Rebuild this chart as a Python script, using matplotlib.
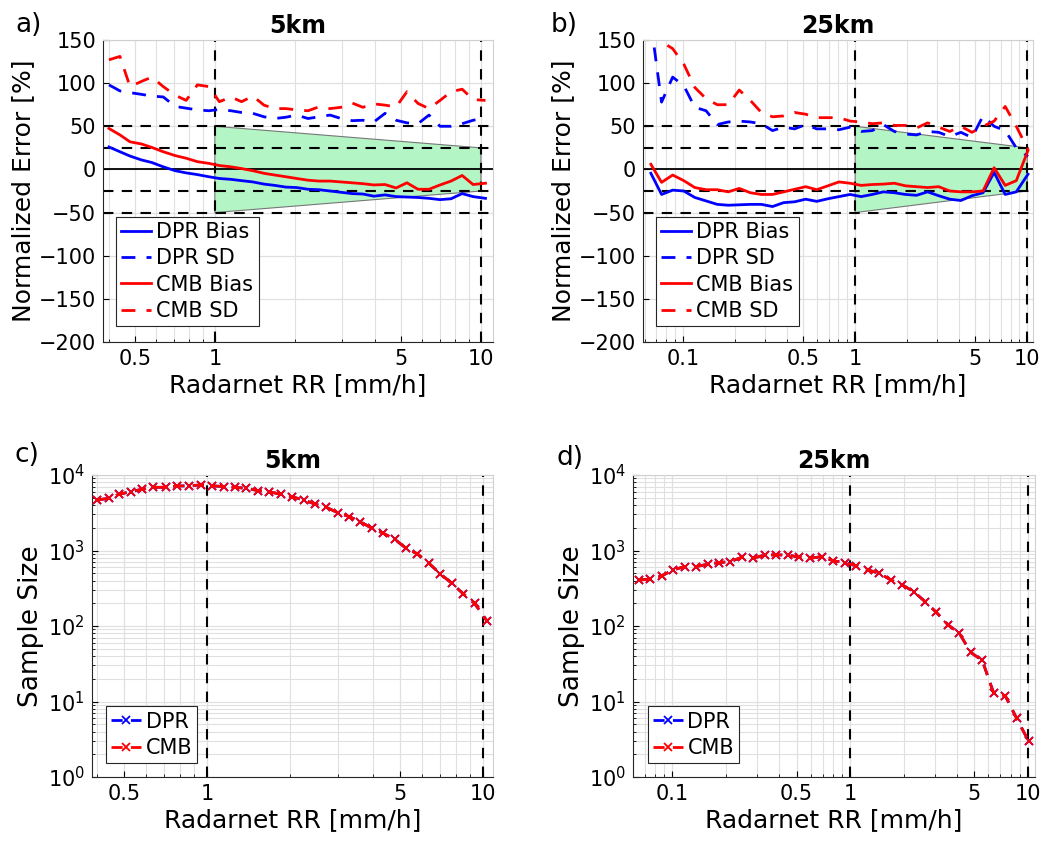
import numpy as np
import matplotlib
matplotlib.use("Agg")
import matplotlib.pyplot as plt
from matplotlib.ticker import LogLocator, NullFormatter

plt.rcParams['font.family'] = ['DejaVu Sans']
plt.rcParams['xtick.direction'] = 'in'
plt.rcParams['ytick.direction'] = 'in'

# --- data ---
# 5 km bins (panels a, c)
rr_5 = [0.40, 0.44, 0.48, 0.53, 0.58, 0.64, 0.71, 0.78, 0.86, 0.95,
        1.04, 1.15, 1.26, 1.39, 1.53, 1.68, 1.85, 2.03, 2.24, 2.46,
        2.71, 2.98, 3.28, 3.60, 3.96, 4.36, 4.80, 5.27, 5.80, 6.38,
        7.02, 7.72, 8.50, 9.34, 10.4]
dpr_bias_5 = [26, 20.5, 15.5, 11, 8, 3, -1.5, -4, -6, -8.5,
              -10.5, -11.5, -13, -14.5, -17, -18.5, -20.5, -21, -23, -23.5,
              -25, -26.5, -28, -28.5, -31, -29.5, -31.5, -32, -32.5, -33.5,
              -35, -34, -28, -31.5, -33.5]
dpr_sd_5 = [98, 91, 89, 87, 85, 84, 73, 71, 69, 68,
            69.5, 68, 66, 65, 61, 59, 60.5, 63, 59, 61,
            63, 59, 56.5, 57, 55, 65, 57, 54, 53, 63,
            50, 50, 53, 57, 59]
cmb_bias_5 = [47.5, 40, 32, 29.5, 25.5, 20.5, 16, 13, 9, 7,
              4.5, 3, 1, -1.5, -4.5, -6.5, -8.5, -10.5, -12.5, -13.5,
              -13.5, -14.5, -15.5, -16.5, -18, -17.5, -21.5, -15.5, -23, -23,
              -18, -13.5, -7, -17.5, -16]
cmb_sd_5 = [127, 131, 96, 102, 107, 96, 86, 80, 98, 96,
            78.5, 84, 78.5, 85, 74.5, 70.5, 70.5, 69, 68, 72.5,
            70.5, 72, 77, 72, 76, 74.5, 72.5, 90, 76.5, 70.5,
            80, 90, 93, 81, 80]
n_dpr_5 = [4670, 4910, 5550, 6020, 6460, 6870, 6870, 7140, 7200, 7380,
           7200, 7020, 6870, 6670, 6210, 6020, 5550, 5160, 4670, 4130,
           3730, 3170, 2810, 2410, 1970, 1690, 1410, 1070, 902, 678,
           490, 369, 267, 200, 115]
n_cmb_5 = [4670, 4910, 5550, 6020, 6460, 6870, 6870, 7140, 7200, 7380,
           7200, 7020, 6870, 6670, 6210, 6020, 5550, 5160, 4670, 4130,
           3730, 3170, 2810, 2410, 1970, 1690, 1410, 1070, 902, 678,
           490, 369, 267, 200, 115]

# 25 km bins (panels b, d)
rr_25 = [0.065, 0.075, 0.087, 0.101, 0.117, 0.136, 0.158, 0.183, 0.212, 0.246,
         0.285, 0.331, 0.384, 0.445, 0.516, 0.598, 0.694, 0.805, 0.934, 1.083,
         1.256, 1.457, 1.690, 1.960, 2.273, 2.636, 3.058, 3.546, 4.114, 4.771,
         5.534, 6.419, 7.444, 8.637, 10.1]
dpr_bias_25 = [-4.5, -29, -24, -25, -32.5, -36.5, -40.5, -41.5, -41, -40.5,
               -40.5, -43, -38.5, -37.5, -34.5, -37, -34, -31.5, -29, -31.5,
               -29, -26, -27, -29, -30, -26, -30.5, -34.5, -36, -30.5,
               -27, -3.5, -29, -26, -5.5]
dpr_sd_25 = [170, 78, 107, 97, 72, 68, 52, 55, 56, 55,
             53, 45, 49, 47, 52, 47, 47, 46, 49, 44,
             45, 52, 44, 41, 40, 44, 43, 38, 43, 37,
             62, 50, 45, 25, 15]
cmb_bias_25 = [6, -15, -6.5, -13, -21, -23.5, -23.5, -26, -22, -27,
               -29, -29, -26, -23, -20, -23.5, -19, -14.5, -16, -18.5,
               -17.5, -17, -16, -19, -20, -21, -20, -25, -26, -26,
               -25, 2, -18.5, -13, 22]
cmb_sd_25 = [165, 148, 140, 122, 95, 82, 75, 75, 92, 80,
             66, 61, 62, 66, 64, 60, 60, 60, 56, 55,
             53, 54, 51, 51, 48, 54, 49, 44, 50, 43,
             50, 56, 73, 50, 23]
n_dpr_25 = [408, 417, 461, 553, 612, 612, 658, 692, 713, 814,
            789, 874, 874, 874, 814, 789, 832, 728, 692, 625,
            553, 500, 408, 351, 286, 211, 151, 104, 80, 44.6,
            35, 12.9, 12, 6.0, 2.96]
n_cmb_25 = [408, 417, 461, 553, 612, 612, 658, 692, 713, 814,
            789, 874, 874, 874, 814, 789, 832, 728, 692, 625,
            553, 500, 408, 351, 286, 211, 151, 104, 80, 44.6,
            35, 12.9, 12, 6.0, 2.96]

# funnel of acceptable error between 1 and 10 mm/h
funnel_x = [1, 10, 10, 1]
funnel_y = [50, 25, -25, -50]

W, H = 1062, 842
fig = plt.figure(figsize=(W / 100, H / 100), dpi=100)

def px_axes(left, top, right, bottom):
    return fig.add_axes([left / W, 1 - bottom / H, (right - left) / W, (bottom - top) / H])

grid_col = '#e0e0e0'
tick_fs = 15
lab_fs = 18


def style_axes(ax, xlim, xticks, xticklabels):
    ax.set_xscale('log')
    ax.set_xlim(*xlim)
    ax.set_xticks(xticks)
    ax.set_xticklabels(xticklabels)
    ax.xaxis.set_minor_locator(LogLocator(base=10, subs=np.arange(2, 10)))
    ax.xaxis.set_minor_formatter(NullFormatter())
    ax.grid(True, which='major', color=grid_col, lw=0.9)
    ax.grid(True, which='minor', color=grid_col, lw=0.8)
    ax.set_axisbelow(True)
    ax.tick_params(labelsize=tick_fs, length=4, width=0.8, top=False, right=False, pad=5)
    ax.tick_params(which='minor', length=2, top=False, right=False)
    for s in ['top', 'right']:
        ax.spines[s].set_color('#d0d0d0')
    for s in ['left', 'bottom']:
        ax.spines[s].set_color('#262626')
    ax.set_xlabel('Radarnet RR [mm/h]', fontsize=lab_fs, labelpad=3)


def error_panel(ax, rr, db, dsd, cb, csd, xlim, xticks, xticklabels, title):
    ax.fill(funnel_x, funnel_y, facecolor='#b3f5c4', edgecolor='#777777', lw=0.8, zorder=1)
    for yv in [50, 25, -25, -50]:
        ax.axhline(yv, color='k', ls='--', lw=1.5, dashes=(5, 4), zorder=2)
    ax.axhline(0, color='k', lw=1.3, zorder=2)
    for xv in [1, 10]:
        ax.axvline(xv, color='k', ls='--', lw=1.5, dashes=(5, 4), zorder=2)
    ax.plot(rr, db, color='#0000ff', lw=2, label='DPR Bias', zorder=3)
    ax.plot(rr, dsd, color='#0000ff', lw=2, ls='--', dashes=(5, 4), label='DPR SD', zorder=3)
    ax.plot(rr, cb, color='#ff0000', lw=2, label='CMB Bias', zorder=3)
    ax.plot(rr, csd, color='#ff0000', lw=2, ls='--', dashes=(5, 4), label='CMB SD', zorder=3)
    ax.set_ylim(-200, 150)
    ax.set_yticks(np.arange(-200, 151, 50))
    style_axes(ax, xlim, xticks, xticklabels)
    ax.set_ylabel('Normalized Error [%]', fontsize=lab_fs, labelpad=3)
    ax.set_title(title, fontsize=17, fontweight='bold', pad=5)
    leg = ax.legend(loc='upper left', bbox_to_anchor=(0.033, 0.414), borderaxespad=0,
                    fontsize=15, fancybox=False, framealpha=1, edgecolor='#262626',
                    handlelength=1.45, handletextpad=0.25, labelspacing=0.3, borderpad=0.25)
    leg.get_frame().set_linewidth(0.8)


def size_panel(ax, rr, nd, nc, xlim, xticks, xticklabels, title, lx):
    for xv in [1, 10]:
        ax.axvline(xv, color='k', ls='--', lw=1.5, dashes=(5, 4), zorder=2)
    ax.plot(rr, nd, color='#0000ff', lw=2, ls='--', dashes=(4, 3), marker='x', ms=6, mew=1.3,
            label='DPR', zorder=3)
    ax.plot(rr, nc, color='#ff0000', lw=2, ls='--', dashes=(4, 3), marker='x', ms=6, mew=1.3,
            label='CMB', zorder=4)
    ax.set_yscale('log')
    ax.set_ylim(1, 1e4)
    ax.set_yticks([1, 10, 100, 1000, 10000])
    ax.yaxis.set_minor_locator(LogLocator(base=10, subs=np.arange(2, 10)))
    ax.yaxis.set_minor_formatter(NullFormatter())
    style_axes(ax, xlim, xticks, xticklabels)
    ax.set_ylabel('Sample Size', fontsize=lab_fs + 1, labelpad=3)
    ax.set_title(title, fontsize=17, fontweight='bold', pad=5)
    leg = ax.legend(loc='lower left', bbox_to_anchor=(lx, 0.046), borderaxespad=0,
                    fontsize=15, fancybox=False, framealpha=1, edgecolor='#262626',
                    handlelength=1.45, handletextpad=0.2, labelspacing=0.3, borderpad=0.25)
    leg.get_frame().set_linewidth(0.8)


ax_a = px_axes(103, 40, 493, 342)
ax_b = px_axes(643, 40, 1033, 342)
ax_c = px_axes(92, 475, 493, 777)
ax_d = px_axes(633, 475, 1035, 777)

error_panel(ax_a, rr_5, dpr_bias_5, dpr_sd_5, cmb_bias_5, cmb_sd_5,
            (0.38, 11.1), [0.5, 1, 5, 10], ['0.5', '1', '5', '10'], '5km')
error_panel(ax_b, rr_25, dpr_bias_25, dpr_sd_25, cmb_bias_25, cmb_sd_25,
            (0.0585, 10.8), [0.1, 0.5, 1, 5, 10], ['0.1', '0.5', '1', '5', '10'], '25km')
size_panel(ax_c, rr_5, n_dpr_5, n_cmb_5,
           (0.383, 10.9), [0.5, 1, 5, 10], ['0.5', '1', '5', '10'], '5km', 0.035)
size_panel(ax_d, rr_25, n_dpr_25, n_cmb_25,
           (0.060, 10.96), [0.1, 0.5, 1, 5, 10], ['0.1', '0.5', '1', '5', '10'], '25km', 0.037)

for lbl, (x, y) in zip(['a)', 'b)', 'c)', 'd)'], [(29, 25), (564, 25), (27, 455), (570, 458)]):
    fig.text(x / W, 1 - y / H, lbl, fontsize=19, ha='center', va='center')

fig.savefig('out.png', dpi=100)
